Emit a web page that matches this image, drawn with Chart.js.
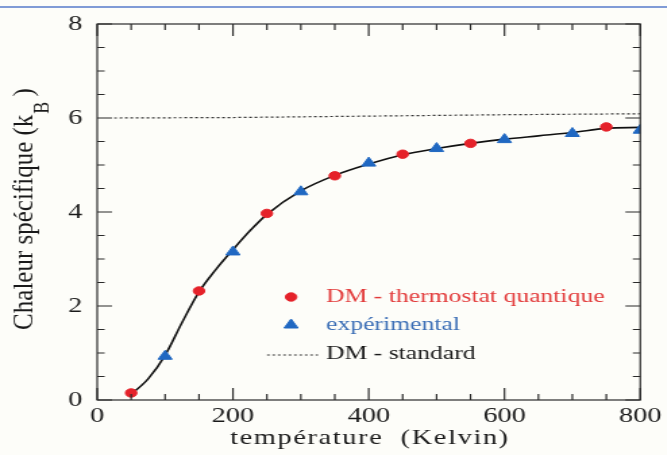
<!DOCTYPE html>
<html>
<head>
<meta charset="utf-8">
<script src="https://cdn.jsdelivr.net/npm/chart.js@4/dist/chart.umd.min.js"></script>
<style>
  html, body { margin: 0; padding: 0; background: #fdfdf9; overflow: hidden; }
  #topline { position: absolute; left: 0; top: 6px; width: 667px; height: 2px; background: #809bd6; }
  #wrap { position: absolute; left: 0; top: 0; width: 494px; height: 455px;
          transform: scaleX(1.35); transform-origin: 0 0; }
</style>
</head>
<body>
<div id="topline"></div>
<div id="wrap"><canvas id="heat" width="494" height="455"></canvas></div>
<script>
// chaleur specifique vs temperature
const qtbTemps = [50, 150, 250, 350, 450, 550, 750];
const qtbHeat = [0.15, 2.32, 3.97, 4.77, 5.23, 5.46, 5.81];

const expTemps = [100, 200, 300, 400, 500, 600, 700, 800];
const expHeat = [0.93, 3.15, 4.43, 5.04, 5.35, 5.54, 5.67, 5.74];

const curveTemps = [50, 75, 100, 125, 150, 175, 200, 225, 250, 300, 350, 400, 450, 500, 550, 600, 650, 700, 750, 800];
const curveHeat = [0.12, 0.45, 0.95, 1.65, 2.3, 2.78, 3.2, 3.6, 3.95, 4.45, 4.78, 5.02, 5.22, 5.35, 5.46, 5.55, 5.62, 5.69, 5.78, 5.8];

const stdTemps = [25, 200, 400, 600, 800];
const stdHeat = [6.0, 6.01, 6.04, 6.07, 6.09];

const xMajorTicks = [0, 200, 400, 600, 800];
const yMajorTicks = [0, 2, 4, 6, 8];

const serif = "'Liberation Serif', 'Times New Roman', serif";

function pts(xs, ys) {
    return xs.map((x, i) => ({ x: x, y: ys[i] }));
}

// inward ticks on all four sides + frame
const frameTicks = {
    id: 'frameTicks',
    afterDraw(chart) {
        const ctx = chart.ctx;
        const a = chart.chartArea;
        const xs = chart.scales.x, ys = chart.scales.y;
        ctx.save();
        ctx.strokeStyle = '#2a2a2a';
        ctx.lineWidth = 1.2;
        ctx.strokeRect(a.left, a.top, a.right - a.left, a.bottom - a.top);
        ctx.beginPath();
        for (let v = 0; v <= 800; v += 50) {
            const px = xs.getPixelForValue(v);
            const len = xMajorTicks.includes(v) ? 12 : 6;
            ctx.moveTo(px, a.bottom); ctx.lineTo(px, a.bottom - len);
            ctx.moveTo(px, a.top); ctx.lineTo(px, a.top + len);
        }
        for (let v = 0; v <= 8; v += 0.5) {
            const py = ys.getPixelForValue(v);
            const len = yMajorTicks.includes(v) ? 11 : 5.5;
            ctx.moveTo(a.left, py); ctx.lineTo(a.left + len, py);
            ctx.moveTo(a.right, py); ctx.lineTo(a.right - len, py);
        }
        ctx.stroke();

        // axis titles
        ctx.fillStyle = '#1a1a1a';
        ctx.font = '21px ' + serif;
        ctx.letterSpacing = '1.2px';
        ctx.textAlign = 'center';
        ctx.textBaseline = 'alphabetic';
        ctx.fillText('température  (Kelvin)', 274, 444);
        ctx.letterSpacing = '0px';

        ctx.translate(24, 209);
        ctx.rotate(-Math.PI / 2);
        ctx.scale(1, 0.88);
        ctx.textAlign = 'left';
        const main = 'Chaleur spécifique (k';
        const tail = ' )';
        ctx.font = '25px ' + serif;
        const w1 = ctx.measureText(main).width;
        const w3 = ctx.measureText(tail).width;
        ctx.font = '18px ' + serif;
        const w2 = ctx.measureText('B').width;
        let x0 = -(w1 + w2 + w3) / 2;
        ctx.font = '25px ' + serif;
        ctx.fillText(main, x0, 0);
        ctx.font = '18px ' + serif;
        ctx.fillText('B', x0 + w1 + 1, 14);
        ctx.font = '25px ' + serif;
        ctx.fillText(tail, x0 + w1 + w2, 0);
        ctx.restore();
    }
};

// legend inside the plot
const innerLegend = {
    id: 'innerLegend',
    afterDraw(chart) {
        const ctx = chart.ctx;
        const rows = [
            { ds: chart.data.datasets[0], y: 297, base: 302, color: '#e23a3a' },
            { ds: chart.data.datasets[1], y: 325, base: 330, color: '#3a6db5' },
            { ds: chart.data.datasets[3], y: 355, base: 359, color: '#1a1a1a' }
        ];
        ctx.save();
        ctx.font = '19px ' + serif;
        ctx.textAlign = 'left';
        ctx.textBaseline = 'alphabetic';
        rows.forEach(r => {
            const ds = r.ds;
            if (ds.showLine) {
                ctx.strokeStyle = ds.borderColor;
                ctx.lineWidth = ds.borderWidth;
                ctx.setLineDash(ds.borderDash);
                ctx.beginPath();
                ctx.moveTo(197.8, r.y); ctx.lineTo(235.6, r.y);
                ctx.stroke();
                ctx.setLineDash([]);
            } else {
                ctx.fillStyle = ds.backgroundColor;
                ctx.strokeStyle = ds.borderColor;
                Chart.helpers.drawPoint(ctx, {
                    pointStyle: ds.pointStyle, radius: ds.pointRadius, rotation: 0, borderWidth: 1
                }, 215.6, r.y);
            }
            ctx.fillStyle = r.color;
            ctx.fillText(ds.label, 241.5, r.base);
        });
        ctx.restore();
    }
};

const ctx = document.getElementById('heat').getContext('2d');
const heatChart = new Chart(ctx, {
    type: 'scatter',
    data: {
        datasets: [{
            label: 'DM - thermostat quantique',
            data: pts(qtbTemps, qtbHeat),
            pointStyle: 'circle',
            pointRadius: 4.2,
            backgroundColor: '#e5222a',
            borderColor: '#e5222a',
            order: 0
        }, {
            label: 'expérimental',
            data: pts(expTemps, expHeat),
            pointStyle: 'triangle',
            pointRadius: 6,
            backgroundColor: '#2068c2',
            borderColor: '#2068c2',
            order: 0
        }, {
            label: '',
            data: pts(curveTemps, curveHeat),
            showLine: true,
            cubicInterpolationMode: 'monotone',
            pointRadius: 0,
            borderColor: '#111',
            borderWidth: 1.6,
            order: 1
        }, {
            label: 'DM - standard',
            data: pts(stdTemps, stdHeat),
            showLine: true,
            pointRadius: 0,
            borderColor: '#333',
            borderWidth: 1.2,
            borderDash: [2, 2],
            order: 2
        }]
    },
    options: {
        responsive: false,
        animation: false,
        events: [],
        layout: { padding: { left: 0, right: 19.2, top: 24, bottom: 0 } },
        plugins: {
            legend: { display: false },
            tooltip: { enabled: false }
        },
        scales: {
            x: {
                type: 'linear',
                min: 0,
                max: 800,
                afterBuildTicks: s => { s.ticks = xMajorTicks.map(v => ({ value: v })); },
                afterFit: s => { s.height = 55; },
                grid: { display: false, drawTicks: false },
                border: { display: false },
                ticks: { padding: 4, color: '#1a1a1a', font: { family: serif, size: 21 } }
            },
            y: {
                type: 'linear',
                min: 0,
                max: 8,
                afterBuildTicks: s => { s.ticks = yMajorTicks.map(v => ({ value: v })); },
                afterFit: s => { s.width = 72; },
                grid: { display: false, drawTicks: false },
                border: { display: false },
                ticks: { padding: 11, color: '#1a1a1a', font: { family: serif, size: 21 } }
            }
        }
    },
    plugins: [frameTicks, innerLegend]
});
</script>
</body>
</html>
